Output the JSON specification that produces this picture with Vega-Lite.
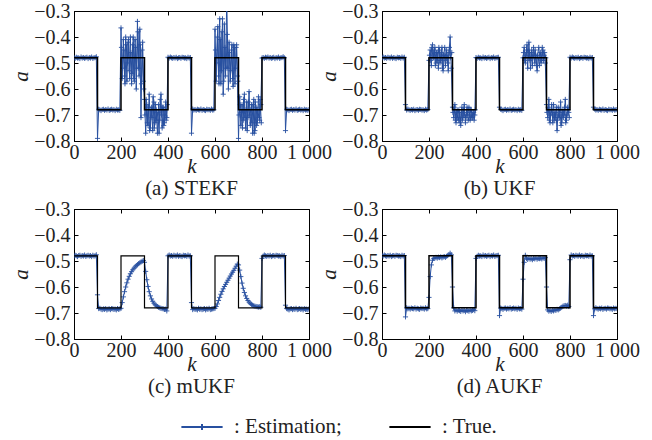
{
"$schema":"https://vega.github.io/schema/vega-lite/v6.json",
"padding":{"left":10,"top":0,"right":2,"bottom":0},
"spacing":-2,
"config":{
 "font":"Liberation Serif",
 "view":{"stroke":"#000","strokeWidth":1},
 "axis":{"labelFont":"Liberation Serif","labelFontSize":20,"labelColor":"#222","titleFont":"Liberation Serif","titleFontSize":21,"titleFontStyle":"italic","titleFontWeight":"normal","titleColor":"#222","domainColor":"#000","tickColor":"#000","tickSize":-4,"labelPadding":8,"grid":false},
 "axisBottom":{"labelPadding":5,"titlePadding":-7},
 "axisLeft":{"titlePadding":2},
 "title":{"font":"Liberation Serif","fontSize":21,"fontWeight":"normal","color":"#222"}
},
"datasets":{
"t":[{"k":0,"t":-0.48},{"k":100,"t":-0.68},{"k":200,"t":-0.48},{"k":300,"t":-0.68},{"k":400,"t":-0.48},{"k":500,"t":-0.68},{"k":600,"t":-0.48},{"k":700,"t":-0.68},{"k":800,"t":-0.48},{"k":900,"t":-0.68},{"k":1000,"t":-0.68}],
"x":[
{"k":202,"g":2,"s":-0.44,"u":-0.47},{"k":207,"g":2,"s":-0.52,"u":-0.49},{"k":212,"g":2,"s":-0.45,"u":-0.44},{"k":217,"g":2,"s":-0.58,"u":-0.48},
{"k":222,"g":2,"s":-0.43,"u":-0.45},{"k":227,"g":2,"s":-0.50,"u":-0.51},{"k":232,"g":2,"s":-0.41,"u":-0.46},{"k":237,"g":2,"s":-0.56,"u":-0.49},
{"k":242,"g":2,"s":-0.46,"u":-0.44},{"k":247,"g":2,"s":-0.54,"u":-0.50},{"k":252,"g":2,"s":-0.40,"u":-0.46},{"k":257,"g":2,"s":-0.57,"u":-0.52},
{"k":262,"g":2,"s":-0.44,"u":-0.47},{"k":267,"g":2,"s":-0.52,"u":-0.44},{"k":272,"g":2,"s":-0.38,"u":-0.49},{"k":277,"g":2,"s":-0.55,"u":-0.47},
{"k":282,"g":2,"s":-0.43,"u":-0.53},{"k":287,"g":2,"s":-0.58,"u":-0.44},{"k":292,"g":2,"s":-0.42,"u":-0.48},{"k":297,"g":2,"s":-0.60,"u":-0.46},
{"k":302,"g":3,"s":-0.70,"u":-0.69},{"k":307,"g":3,"s":-0.64,"u":-0.67},{"k":312,"g":3,"s":-0.73,"u":-0.72},{"k":317,"g":3,"s":-0.67,"u":-0.69},
{"k":322,"g":3,"s":-0.76,"u":-0.71},{"k":327,"g":3,"s":-0.68,"u":-0.68},{"k":332,"g":3,"s":-0.71,"u":-0.73},{"k":337,"g":3,"s":-0.63,"u":-0.69},
{"k":342,"g":3,"s":-0.75,"u":-0.72},{"k":347,"g":3,"s":-0.66,"u":-0.68},{"k":352,"g":3,"s":-0.72,"u":-0.70},{"k":357,"g":3,"s":-0.69,"u":-0.71},
{"k":362,"g":3,"s":-0.77,"u":-0.67},{"k":367,"g":3,"s":-0.64,"u":-0.72},{"k":372,"g":3,"s":-0.70,"u":-0.70},{"k":377,"g":3,"s":-0.67,"u":-0.68},
{"k":382,"g":3,"s":-0.74,"u":-0.71},{"k":387,"g":3,"s":-0.68,"u":-0.69},{"k":392,"g":3,"s":-0.72,"u":-0.72},{"k":397,"g":3,"s":-0.66,"u":-0.68},
{"k":602,"g":6,"s":-0.45,"u":-0.46},{"k":607,"g":6,"s":-0.50,"u":-0.49},{"k":612,"g":6,"s":-0.36,"u":-0.47},{"k":617,"g":6,"s":-0.58,"u":-0.43},
{"k":622,"g":6,"s":-0.41,"u":-0.48},{"k":627,"g":6,"s":-0.53,"u":-0.46},{"k":632,"g":6,"s":-0.33,"u":-0.52},{"k":637,"g":6,"s":-0.57,"u":-0.45},
{"k":642,"g":6,"s":-0.44,"u":-0.48},{"k":647,"g":6,"s":-0.52,"u":-0.47},{"k":652,"g":6,"s":-0.39,"u":-0.45},{"k":657,"g":6,"s":-0.60,"u":-0.51},
{"k":662,"g":6,"s":-0.46,"u":-0.47},{"k":667,"g":6,"s":-0.53,"u":-0.44},{"k":672,"g":6,"s":-0.43,"u":-0.48},{"k":677,"g":6,"s":-0.59,"u":-0.50},
{"k":682,"g":6,"s":-0.44,"u":-0.44},{"k":687,"g":6,"s":-0.52,"u":-0.49},{"k":692,"g":6,"s":-0.43,"u":-0.46},{"k":697,"g":6,"s":-0.57,"u":-0.48},
{"k":702,"g":7,"s":-0.70,"u":-0.69},{"k":707,"g":7,"s":-0.66,"u":-0.67},{"k":712,"g":7,"s":-0.69,"u":-0.72},{"k":717,"g":7,"s":-0.75,"u":-0.70},
{"k":722,"g":7,"s":-0.64,"u":-0.66},{"k":727,"g":7,"s":-0.71,"u":-0.73},{"k":732,"g":7,"s":-0.68,"u":-0.69},{"k":737,"g":7,"s":-0.76,"u":-0.71},
{"k":742,"g":7,"s":-0.65,"u":-0.67},{"k":747,"g":7,"s":-0.70,"u":-0.72},{"k":752,"g":7,"s":-0.68,"u":-0.70},{"k":757,"g":7,"s":-0.73,"u":-0.68},
{"k":762,"g":7,"s":-0.66,"u":-0.74},{"k":767,"g":7,"s":-0.77,"u":-0.69},{"k":772,"g":7,"s":-0.65,"u":-0.71},{"k":777,"g":7,"s":-0.74,"u":-0.67},
{"k":782,"g":7,"s":-0.68,"u":-0.73},{"k":787,"g":7,"s":-0.71,"u":-0.70},{"k":792,"g":7,"s":-0.64,"u":-0.68},{"k":797,"g":7,"s":-0.73,"u":-0.71}
],
"e":[
{"k":0,"s":-0.479,"u":-0.480,"m":-0.481,"f":-0.478},
{"k":5,"s":-0.482,"u":-0.477,"m":-0.478,"f":-0.481},
{"k":10,"s":-0.478,"u":-0.481,"m":-0.480,"f":-0.477},
{"k":15,"s":-0.481,"u":-0.479,"m":-0.483,"f":-0.480},
{"k":20,"s":-0.480,"u":-0.482,"m":-0.479,"f":-0.482},
{"k":25,"s":-0.483,"u":-0.478,"m":-0.478,"f":-0.479},
{"k":30,"s":-0.477,"u":-0.480,"m":-0.482,"f":-0.481},
{"k":35,"s":-0.481,"u":-0.481,"m":-0.479,"f":-0.478},
{"k":40,"s":-0.479,"u":-0.477,"m":-0.481,"f":-0.483},
{"k":45,"s":-0.482,"u":-0.482,"m":-0.477,"f":-0.480},
{"k":50,"s":-0.480,"u":-0.479,"m":-0.482,"f":-0.479},
{"k":55,"s":-0.478,"u":-0.481,"m":-0.480,"f":-0.482},
{"k":60,"s":-0.483,"u":-0.483,"m":-0.478,"f":-0.478},
{"k":65,"s":-0.479,"u":-0.478,"m":-0.481,"f":-0.479},
{"k":70,"s":-0.481,"u":-0.480,"m":-0.479,"f":-0.481},
{"k":75,"s":-0.477,"u":-0.479,"m":-0.483,"f":-0.480},
{"k":80,"s":-0.482,"u":-0.482,"m":-0.478,"f":-0.483},
{"k":85,"s":-0.480,"u":-0.477,"m":-0.481,"f":-0.478},
{"k":90,"s":-0.479,"u":-0.481,"m":-0.480,"f":-0.481},
{"k":95,"s":-0.476,"u":-0.478,"m":-0.476,"f":-0.479},
{"k":100,"s":-0.79,"u":-0.66,"m":-0.63,"f":-0.715},
{"k":105,"s":-0.678,"u":-0.681,"m":-0.683,"f":-0.680},
{"k":110,"s":-0.680,"u":-0.677,"m":-0.682,"f":-0.684},
{"k":115,"s":-0.683,"u":-0.680,"m":-0.685,"f":-0.682},
{"k":120,"s":-0.679,"u":-0.682,"m":-0.687,"f":-0.685},
{"k":125,"s":-0.678,"u":-0.679,"m":-0.684,"f":-0.681},
{"k":130,"s":-0.682,"u":-0.681,"m":-0.686,"f":-0.683},
{"k":135,"s":-0.679,"u":-0.678,"m":-0.683,"f":-0.684},
{"k":140,"s":-0.681,"u":-0.683,"m":-0.688,"f":-0.680},
{"k":145,"s":-0.677,"u":-0.680,"m":-0.685,"f":-0.685},
{"k":150,"s":-0.682,"u":-0.679,"m":-0.684,"f":-0.682},
{"k":155,"s":-0.680,"u":-0.682,"m":-0.687,"f":-0.684},
{"k":160,"s":-0.678,"u":-0.678,"m":-0.683,"f":-0.686},
{"k":165,"s":-0.681,"u":-0.679,"m":-0.684,"f":-0.681},
{"k":170,"s":-0.679,"u":-0.681,"m":-0.686,"f":-0.683},
{"k":175,"s":-0.683,"u":-0.680,"m":-0.685,"f":-0.682},
{"k":180,"s":-0.678,"u":-0.683,"m":-0.688,"f":-0.685},
{"k":185,"s":-0.681,"u":-0.678,"m":-0.683,"f":-0.680},
{"k":190,"s":-0.680,"u":-0.681,"m":-0.686,"f":-0.684},
{"k":195,"s":-0.682,"u":-0.679,"m":-0.684,"f":-0.683},
{"k":200,"s":-0.365,"u":-0.49,"m":-0.682,"f":-0.64},
{"k":205,"s":-0.56,"u":-0.45,"m":-0.66,"f":-0.56},
{"k":210,"s":-0.41,"u":-0.51,"m":-0.638,"f":-0.515},
{"k":215,"s":-0.55,"u":-0.43,"m":-0.618,"f":-0.497},
{"k":220,"s":-0.40,"u":-0.48,"m":-0.60,"f":-0.49},
{"k":225,"s":-0.57,"u":-0.44,"m":-0.584,"f":-0.488},
{"k":230,"s":-0.42,"u":-0.50,"m":-0.57,"f":-0.486},
{"k":235,"s":-0.53,"u":-0.46,"m":-0.559,"f":-0.489},
{"k":240,"s":-0.40,"u":-0.52,"m":-0.549,"f":-0.485},
{"k":245,"s":-0.58,"u":-0.45,"m":-0.541,"f":-0.487},
{"k":250,"s":-0.43,"u":-0.49,"m":-0.534,"f":-0.484},
{"k":255,"s":-0.56,"u":-0.44,"m":-0.528,"f":-0.488},
{"k":260,"s":-0.41,"u":-0.53,"m":-0.523,"f":-0.485},
{"k":265,"s":-0.60,"u":-0.47,"m":-0.518,"f":-0.483},
{"k":270,"s":-0.34,"u":-0.51,"m":-0.514,"f":-0.486},
{"k":275,"s":-0.52,"u":-0.45,"m":-0.51,"f":-0.482},
{"k":280,"s":-0.37,"u":-0.50,"m":-0.507,"f":-0.479},
{"k":285,"s":-0.71,"u":-0.46,"m":-0.504,"f":-0.475},
{"k":290,"s":-0.45,"u":-0.40,"m":-0.501,"f":-0.47},
{"k":295,"s":-0.57,"u":-0.52,"m":-0.498,"f":-0.476},
{"k":300,"s":-0.64,"u":-0.67,"m":-0.505,"f":-0.60},
{"k":305,"s":-0.77,"u":-0.71,"m":-0.54,"f":-0.68},
{"k":310,"s":-0.66,"u":-0.66,"m":-0.572,"f":-0.692},
{"k":315,"s":-0.74,"u":-0.73,"m":-0.598,"f":-0.688},
{"k":320,"s":-0.62,"u":-0.68,"m":-0.618,"f":-0.693},
{"k":325,"s":-0.75,"u":-0.72,"m":-0.634,"f":-0.689},
{"k":330,"s":-0.67,"u":-0.69,"m":-0.646,"f":-0.691},
{"k":335,"s":-0.76,"u":-0.74,"m":-0.655,"f":-0.694},
{"k":340,"s":-0.65,"u":-0.67,"m":-0.662,"f":-0.688},
{"k":345,"s":-0.73,"u":-0.71,"m":-0.668,"f":-0.692},
{"k":350,"s":-0.68,"u":-0.66,"m":-0.672,"f":-0.69},
{"k":355,"s":-0.77,"u":-0.73,"m":-0.675,"f":-0.695},
{"k":360,"s":-0.66,"u":-0.69,"m":-0.678,"f":-0.689},
{"k":365,"s":-0.72,"u":-0.70,"m":-0.68,"f":-0.691},
{"k":370,"s":-0.62,"u":-0.67,"m":-0.682,"f":-0.693},
{"k":375,"s":-0.75,"u":-0.72,"m":-0.683,"f":-0.688},
{"k":380,"s":-0.67,"u":-0.68,"m":-0.684,"f":-0.692},
{"k":385,"s":-0.73,"u":-0.71,"m":-0.686,"f":-0.69},
{"k":390,"s":-0.65,"u":-0.69,"m":-0.685,"f":-0.687},
{"k":395,"s":-0.71,"u":-0.70,"m":-0.692,"f":-0.691},
{"k":400,"s":-0.478,"u":-0.479,"m":-0.480,"f":-0.490},
{"k":405,"s":-0.481,"u":-0.482,"m":-0.477,"f":-0.482},
{"k":410,"s":-0.477,"u":-0.478,"m":-0.481,"f":-0.478},
{"k":415,"s":-0.480,"u":-0.481,"m":-0.479,"f":-0.481},
{"k":420,"s":-0.482,"u":-0.480,"m":-0.482,"f":-0.480},
{"k":425,"s":-0.479,"u":-0.483,"m":-0.478,"f":-0.483},
{"k":430,"s":-0.481,"u":-0.477,"m":-0.480,"f":-0.477},
{"k":435,"s":-0.478,"u":-0.481,"m":-0.481,"f":-0.481},
{"k":440,"s":-0.483,"u":-0.479,"m":-0.477,"f":-0.479},
{"k":445,"s":-0.480,"u":-0.482,"m":-0.482,"f":-0.482},
{"k":450,"s":-0.479,"u":-0.480,"m":-0.479,"f":-0.480},
{"k":455,"s":-0.482,"u":-0.478,"m":-0.481,"f":-0.478},
{"k":460,"s":-0.478,"u":-0.483,"m":-0.483,"f":-0.483},
{"k":465,"s":-0.479,"u":-0.479,"m":-0.478,"f":-0.479},
{"k":470,"s":-0.481,"u":-0.481,"m":-0.480,"f":-0.481},
{"k":475,"s":-0.480,"u":-0.477,"m":-0.479,"f":-0.477},
{"k":480,"s":-0.483,"u":-0.482,"m":-0.482,"f":-0.482},
{"k":485,"s":-0.478,"u":-0.480,"m":-0.477,"f":-0.480},
{"k":490,"s":-0.481,"u":-0.479,"m":-0.481,"f":-0.479},
{"k":495,"s":-0.479,"u":-0.478,"m":-0.480,"f":-0.478},
{"k":500,"s":-0.77,"u":-0.67,"m":-0.66,"f":-0.71},
{"k":505,"s":-0.677,"u":-0.678,"m":-0.687,"f":-0.681},
{"k":510,"s":-0.681,"u":-0.680,"m":-0.683,"f":-0.683},
{"k":515,"s":-0.679,"u":-0.683,"m":-0.686,"f":-0.686},
{"k":520,"s":-0.682,"u":-0.679,"m":-0.685,"f":-0.682},
{"k":525,"s":-0.678,"u":-0.678,"m":-0.688,"f":-0.681},
{"k":530,"s":-0.680,"u":-0.682,"m":-0.682,"f":-0.685},
{"k":535,"s":-0.681,"u":-0.679,"m":-0.686,"f":-0.682},
{"k":540,"s":-0.677,"u":-0.681,"m":-0.684,"f":-0.684},
{"k":545,"s":-0.682,"u":-0.677,"m":-0.687,"f":-0.680},
{"k":550,"s":-0.679,"u":-0.682,"m":-0.685,"f":-0.685},
{"k":555,"s":-0.681,"u":-0.680,"m":-0.683,"f":-0.683},
{"k":560,"s":-0.683,"u":-0.678,"m":-0.688,"f":-0.681},
{"k":565,"s":-0.678,"u":-0.681,"m":-0.684,"f":-0.684},
{"k":570,"s":-0.680,"u":-0.679,"m":-0.686,"f":-0.682},
{"k":575,"s":-0.679,"u":-0.683,"m":-0.682,"f":-0.686},
{"k":580,"s":-0.682,"u":-0.678,"m":-0.687,"f":-0.681},
{"k":585,"s":-0.677,"u":-0.681,"m":-0.685,"f":-0.684},
{"k":590,"s":-0.681,"u":-0.680,"m":-0.684,"f":-0.683},
{"k":595,"s":-0.680,"u":-0.682,"m":-0.683,"f":-0.685},
{"k":600,"s":-0.37,"u":-0.48,"m":-0.682,"f":-0.57},
{"k":605,"s":-0.57,"u":-0.44,"m":-0.675,"f":-0.505},
{"k":610,"s":-0.40,"u":-0.50,"m":-0.665,"f":-0.478},
{"k":615,"s":-0.55,"u":-0.45,"m":-0.652,"f":-0.49},
{"k":620,"s":-0.33,"u":-0.52,"m":-0.64,"f":-0.494},
{"k":625,"s":-0.58,"u":-0.42,"m":-0.628,"f":-0.489},
{"k":630,"s":-0.38,"u":-0.49,"m":-0.617,"f":-0.493},
{"k":635,"s":-0.62,"u":-0.46,"m":-0.607,"f":-0.491},
{"k":640,"s":-0.35,"u":-0.51,"m":-0.598,"f":-0.495},
{"k":645,"s":-0.55,"u":-0.44,"m":-0.59,"f":-0.49},
{"k":650,"s":-0.25,"u":-0.50,"m":-0.582,"f":-0.492},
{"k":655,"s":-0.52,"u":-0.47,"m":-0.574,"f":-0.488},
{"k":660,"s":-0.42,"u":-0.53,"m":-0.566,"f":-0.493},
{"k":665,"s":-0.57,"u":-0.48,"m":-0.558,"f":-0.49},
{"k":670,"s":-0.45,"u":-0.51,"m":-0.55,"f":-0.491},
{"k":675,"s":-0.56,"u":-0.46,"m":-0.543,"f":-0.489},
{"k":680,"s":-0.43,"u":-0.49,"m":-0.536,"f":-0.492},
{"k":685,"s":-0.58,"u":-0.45,"m":-0.528,"f":-0.488},
{"k":690,"s":-0.44,"u":-0.47,"m":-0.52,"f":-0.49},
{"k":695,"s":-0.55,"u":-0.50,"m":-0.512,"f":-0.487},
{"k":700,"s":-0.79,"u":-0.66,"m":-0.515,"f":-0.60},
{"k":705,"s":-0.63,"u":-0.71,"m":-0.535,"f":-0.688},
{"k":710,"s":-0.74,"u":-0.64,"m":-0.56,"f":-0.693},
{"k":715,"s":-0.66,"u":-0.73,"m":-0.585,"f":-0.69},
{"k":720,"s":-0.72,"u":-0.68,"m":-0.605,"f":-0.694},
{"k":725,"s":-0.62,"u":-0.70,"m":-0.621,"f":-0.689},
{"k":730,"s":-0.75,"u":-0.66,"m":-0.634,"f":-0.692},
{"k":735,"s":-0.65,"u":-0.72,"m":-0.644,"f":-0.688},
{"k":740,"s":-0.71,"u":-0.69,"m":-0.652,"f":-0.69},
{"k":745,"s":-0.61,"u":-0.76,"m":-0.658,"f":-0.686},
{"k":750,"s":-0.74,"u":-0.67,"m":-0.663,"f":-0.688},
{"k":755,"s":-0.66,"u":-0.71,"m":-0.667,"f":-0.684},
{"k":760,"s":-0.77,"u":-0.65,"m":-0.67,"f":-0.681},
{"k":765,"s":-0.64,"u":-0.73,"m":-0.672,"f":-0.678},
{"k":770,"s":-0.76,"u":-0.68,"m":-0.674,"f":-0.674},
{"k":775,"s":-0.67,"u":-0.70,"m":-0.675,"f":-0.672},
{"k":780,"s":-0.73,"u":-0.64,"m":-0.676,"f":-0.671},
{"k":785,"s":-0.63,"u":-0.72,"m":-0.677,"f":-0.673},
{"k":790,"s":-0.72,"u":-0.67,"m":-0.676,"f":-0.67},
{"k":795,"s":-0.66,"u":-0.69,"m":-0.678,"f":-0.675},
{"k":800,"s":-0.481,"u":-0.478,"m":-0.490,"f":-0.495},
{"k":805,"s":-0.479,"u":-0.481,"m":-0.481,"f":-0.477},
{"k":810,"s":-0.482,"u":-0.477,"m":-0.477,"f":-0.481},
{"k":815,"s":-0.478,"u":-0.480,"m":-0.480,"f":-0.479},
{"k":820,"s":-0.480,"u":-0.482,"m":-0.482,"f":-0.482},
{"k":825,"s":-0.477,"u":-0.479,"m":-0.479,"f":-0.478},
{"k":830,"s":-0.481,"u":-0.481,"m":-0.481,"f":-0.480},
{"k":835,"s":-0.479,"u":-0.478,"m":-0.478,"f":-0.481},
{"k":840,"s":-0.482,"u":-0.483,"m":-0.483,"f":-0.477},
{"k":845,"s":-0.480,"u":-0.480,"m":-0.480,"f":-0.482},
{"k":850,"s":-0.478,"u":-0.479,"m":-0.479,"f":-0.479},
{"k":855,"s":-0.483,"u":-0.482,"m":-0.482,"f":-0.481},
{"k":860,"s":-0.479,"u":-0.478,"m":-0.478,"f":-0.483},
{"k":865,"s":-0.481,"u":-0.479,"m":-0.479,"f":-0.478},
{"k":870,"s":-0.477,"u":-0.481,"m":-0.481,"f":-0.480},
{"k":875,"s":-0.482,"u":-0.480,"m":-0.480,"f":-0.479},
{"k":880,"s":-0.480,"u":-0.483,"m":-0.483,"f":-0.482},
{"k":885,"s":-0.479,"u":-0.478,"m":-0.478,"f":-0.477},
{"k":890,"s":-0.476,"u":-0.481,"m":-0.481,"f":-0.481},
{"k":895,"s":-0.480,"u":-0.479,"m":-0.479,"f":-0.480},
{"k":900,"s":-0.76,"u":-0.67,"m":-0.67,"f":-0.71},
{"k":905,"s":-0.678,"u":-0.677,"m":-0.683,"f":-0.684},
{"k":910,"s":-0.680,"u":-0.681,"m":-0.685,"f":-0.680},
{"k":915,"s":-0.683,"u":-0.679,"m":-0.688,"f":-0.683},
{"k":920,"s":-0.679,"u":-0.682,"m":-0.684,"f":-0.685},
{"k":925,"s":-0.678,"u":-0.678,"m":-0.683,"f":-0.682},
{"k":930,"s":-0.682,"u":-0.680,"m":-0.687,"f":-0.684},
{"k":935,"s":-0.679,"u":-0.681,"m":-0.684,"f":-0.681},
{"k":940,"s":-0.681,"u":-0.677,"m":-0.686,"f":-0.686},
{"k":945,"s":-0.677,"u":-0.682,"m":-0.682,"f":-0.683},
{"k":950,"s":-0.682,"u":-0.679,"m":-0.687,"f":-0.682},
{"k":955,"s":-0.680,"u":-0.681,"m":-0.685,"f":-0.685},
{"k":960,"s":-0.678,"u":-0.683,"m":-0.683,"f":-0.681},
{"k":965,"s":-0.681,"u":-0.678,"m":-0.686,"f":-0.682},
{"k":970,"s":-0.679,"u":-0.680,"m":-0.684,"f":-0.684},
{"k":975,"s":-0.683,"u":-0.679,"m":-0.688,"f":-0.683},
{"k":980,"s":-0.678,"u":-0.682,"m":-0.683,"f":-0.686},
{"k":985,"s":-0.681,"u":-0.677,"m":-0.686,"f":-0.681},
{"k":990,"s":-0.680,"u":-0.681,"m":-0.685,"f":-0.684},
{"k":995,"s":-0.682,"u":-0.680,"m":-0.687,"f":-0.682},
{"k":1000,"s":-0.679,"u":-0.679,"m":-0.684,"f":-0.683}
]},
"vconcat":[
{"hconcat":[
{"width":235,"height":130,"title":{"text":"(a) STEKF","orient":"bottom","offset":2},
 "resolve":{"axis":{"x":"independent","y":"independent"}},
 "layer":[
  {"data":{"name":"e"},"mark":{"type":"line","strokeWidth":1,"clip":true},
   "encoding":{
    "x":{"field":"k","type":"quantitative","scale":{"domain":[0,1000],"nice":false},"axis":{"orient":"bottom","title":"k","values":[0,200,400,600,800,1000],"labelExpr":"datum.value===1000?'1 000':datum.label","labelOverlap":false,"labelFlush":false,"labelBound":false}},
    "y":{"field":"s","type":"quantitative","scale":{"domain":[-0.8,-0.3],"nice":false,"zero":false},"axis":{"orient":"left","title":"a","values":[-0.8,-0.7,-0.6,-0.5,-0.4,-0.3],"format":".1f","labelOverlap":false,"labelFlush":false,"labelBound":false}},
    "color":{"datum":": Estimation;","scale":{"domain":[": Estimation;",": True."],"range":["#2850a0","#000000"]},
     "legend":{"title":null,"orient":"none","legendX":106,"legendY":394,"direction":"horizontal","symbolType":"stroke","symbolSize":1700,"symbolStrokeWidth":2,"labelFont":"Liberation Serif","labelFontSize":21,"labelColor":"#222","labelOffset":10,"columnPadding":43,"labelLimit":0,
      "encode":{"symbols":{"update":{"shape":{"signal":"datum.value === ': Estimation;' ? 'M-1,0H1M0,-0.15V0.15' : 'M-1,0H1'"}}}}}}
   }},
  {"data":{"name":"x"},"mark":{"type":"line","strokeWidth":1,"clip":true},
   "encoding":{"x":{"field":"k","type":"quantitative","scale":{"domain":[0,1000],"nice":false},"axis":null},"y":{"field":"s","type":"quantitative","scale":{"domain":[-0.8,-0.3],"nice":false,"zero":false},"axis":null},"detail":{"field":"g","type":"nominal"},"color":{"datum":": Estimation;"}}},
  {"data":{"name":"x"},"mark":{"type":"point","shape":"M-1,0H1M0,-1V1","size":26,"filled":false,"strokeWidth":0.9,"clip":true,"opacity":1},
   "encoding":{"x":{"field":"k","type":"quantitative","scale":{"domain":[0,1000],"nice":false},"axis":null},"y":{"field":"s","type":"quantitative","scale":{"domain":[-0.8,-0.3],"nice":false,"zero":false},"axis":null},"color":{"datum":": Estimation;"}}},
  {"data":{"name":"e"},"mark":{"type":"point","shape":"M-1,0H1M0,-1V1","size":26,"filled":false,"strokeWidth":0.9,"clip":true,"opacity":1},
   "encoding":{"x":{"field":"k","type":"quantitative","scale":{"domain":[0,1000],"nice":false},"axis":null},"y":{"field":"s","type":"quantitative","scale":{"domain":[-0.8,-0.3],"nice":false,"zero":false},"axis":null},"color":{"datum":": Estimation;"}}},
  {"data":{"name":"t"},"mark":{"type":"line","interpolate":"step-after","strokeWidth":1.5,"clip":true},
   "encoding":{"x":{"field":"k","type":"quantitative","scale":{"domain":[0,1000],"nice":false},"axis":{"orient":"top","labels":false,"title":null,"domain":false,"values":[0,200,400,600,800,1000]}},"y":{"field":"t","type":"quantitative","scale":{"domain":[-0.8,-0.3],"nice":false,"zero":false},"axis":{"orient":"right","labels":false,"title":null,"domain":false,"values":[-0.8,-0.7,-0.6,-0.5,-0.4,-0.3]}},"color":{"datum":": True."}}}
 ]},
{"width":235,"height":130,"title":{"text":"(b) UKF","orient":"bottom","offset":2},
 "resolve":{"axis":{"x":"independent","y":"independent"}},
 "layer":[
  {"data":{"name":"e"},"mark":{"type":"line","strokeWidth":1,"clip":true},
   "encoding":{
    "x":{"field":"k","type":"quantitative","scale":{"domain":[0,1000],"nice":false},"axis":{"orient":"bottom","title":"k","values":[0,200,400,600,800,1000],"labelExpr":"datum.value===1000?'1 000':datum.label","labelOverlap":false,"labelFlush":false,"labelBound":false}},
    "y":{"field":"u","type":"quantitative","scale":{"domain":[-0.8,-0.3],"nice":false,"zero":false},"axis":{"orient":"left","title":"a","values":[-0.8,-0.7,-0.6,-0.5,-0.4,-0.3],"format":".1f","labelOverlap":false,"labelFlush":false,"labelBound":false}},
    "color":{"datum":": Estimation;"}
   }},
  {"data":{"name":"x"},"mark":{"type":"line","strokeWidth":1,"clip":true},
   "encoding":{"x":{"field":"k","type":"quantitative","scale":{"domain":[0,1000],"nice":false},"axis":null},"y":{"field":"u","type":"quantitative","scale":{"domain":[-0.8,-0.3],"nice":false,"zero":false},"axis":null},"detail":{"field":"g","type":"nominal"},"color":{"datum":": Estimation;"}}},
  {"data":{"name":"x"},"mark":{"type":"point","shape":"M-1,0H1M0,-1V1","size":26,"filled":false,"strokeWidth":0.9,"clip":true,"opacity":1},
   "encoding":{"x":{"field":"k","type":"quantitative","scale":{"domain":[0,1000],"nice":false},"axis":null},"y":{"field":"u","type":"quantitative","scale":{"domain":[-0.8,-0.3],"nice":false,"zero":false},"axis":null},"color":{"datum":": Estimation;"}}},
  {"data":{"name":"e"},"mark":{"type":"point","shape":"M-1,0H1M0,-1V1","size":26,"filled":false,"strokeWidth":0.9,"clip":true,"opacity":1},
   "encoding":{"x":{"field":"k","type":"quantitative","scale":{"domain":[0,1000],"nice":false},"axis":null},"y":{"field":"u","type":"quantitative","scale":{"domain":[-0.8,-0.3],"nice":false,"zero":false},"axis":null},"color":{"datum":": Estimation;"}}},
  {"data":{"name":"t"},"mark":{"type":"line","interpolate":"step-after","strokeWidth":1.5,"clip":true},
   "encoding":{"x":{"field":"k","type":"quantitative","scale":{"domain":[0,1000],"nice":false},"axis":{"orient":"top","labels":false,"title":null,"domain":false,"values":[0,200,400,600,800,1000]}},"y":{"field":"t","type":"quantitative","scale":{"domain":[-0.8,-0.3],"nice":false,"zero":false},"axis":{"orient":"right","labels":false,"title":null,"domain":false,"values":[-0.8,-0.7,-0.6,-0.5,-0.4,-0.3]}},"color":{"datum":": True."}}}
 ]}
],"spacing":73,"bounds":"flush"},
{"hconcat":[
{"width":235,"height":130,"title":{"text":"(c) mUKF","orient":"bottom","offset":2},
 "resolve":{"axis":{"x":"independent","y":"independent"}},
 "layer":[
  {"data":{"name":"e"},"mark":{"type":"line","strokeWidth":1,"clip":true},
   "encoding":{
    "x":{"field":"k","type":"quantitative","scale":{"domain":[0,1000],"nice":false},"axis":{"orient":"bottom","title":"k","values":[0,200,400,600,800,1000],"labelExpr":"datum.value===1000?'1 000':datum.label","labelOverlap":false,"labelFlush":false,"labelBound":false}},
    "y":{"field":"m","type":"quantitative","scale":{"domain":[-0.8,-0.3],"nice":false,"zero":false},"axis":{"orient":"left","title":"a","values":[-0.8,-0.7,-0.6,-0.5,-0.4,-0.3],"format":".1f","labelOverlap":false,"labelFlush":false,"labelBound":false}},
    "color":{"datum":": Estimation;"}
   }},
  {"data":{"name":"e"},"mark":{"type":"point","shape":"M-1,0H1M0,-1V1","size":26,"filled":false,"strokeWidth":0.9,"clip":true,"opacity":1},
   "encoding":{"x":{"field":"k","type":"quantitative","scale":{"domain":[0,1000],"nice":false},"axis":null},"y":{"field":"m","type":"quantitative","scale":{"domain":[-0.8,-0.3],"nice":false,"zero":false},"axis":null},"color":{"datum":": Estimation;"}}},
  {"data":{"name":"t"},"mark":{"type":"line","interpolate":"step-after","strokeWidth":1.2,"clip":true},
   "encoding":{"x":{"field":"k","type":"quantitative","scale":{"domain":[0,1000],"nice":false},"axis":{"orient":"top","labels":false,"title":null,"domain":false,"values":[0,200,400,600,800,1000]}},"y":{"field":"t","type":"quantitative","scale":{"domain":[-0.8,-0.3],"nice":false,"zero":false},"axis":{"orient":"right","labels":false,"title":null,"domain":false,"values":[-0.8,-0.7,-0.6,-0.5,-0.4,-0.3]}},"color":{"datum":": True."}}}
 ]},
{"width":235,"height":130,"title":{"text":"(d) AUKF","orient":"bottom","offset":2},
 "resolve":{"axis":{"x":"independent","y":"independent"}},
 "layer":[
  {"data":{"name":"e"},"mark":{"type":"line","strokeWidth":1,"clip":true},
   "encoding":{
    "x":{"field":"k","type":"quantitative","scale":{"domain":[0,1000],"nice":false},"axis":{"orient":"bottom","title":"k","values":[0,200,400,600,800,1000],"labelExpr":"datum.value===1000?'1 000':datum.label","labelOverlap":false,"labelFlush":false,"labelBound":false}},
    "y":{"field":"f","type":"quantitative","scale":{"domain":[-0.8,-0.3],"nice":false,"zero":false},"axis":{"orient":"left","title":"a","values":[-0.8,-0.7,-0.6,-0.5,-0.4,-0.3],"format":".1f","labelOverlap":false,"labelFlush":false,"labelBound":false}},
    "color":{"datum":": Estimation;"}
   }},
  {"data":{"name":"e"},"mark":{"type":"point","shape":"M-1,0H1M0,-1V1","size":26,"filled":false,"strokeWidth":0.9,"clip":true,"opacity":1},
   "encoding":{"x":{"field":"k","type":"quantitative","scale":{"domain":[0,1000],"nice":false},"axis":null},"y":{"field":"f","type":"quantitative","scale":{"domain":[-0.8,-0.3],"nice":false,"zero":false},"axis":null},"color":{"datum":": Estimation;"}}},
  {"data":{"name":"t"},"mark":{"type":"line","interpolate":"step-after","strokeWidth":1.5,"clip":true},
   "encoding":{"x":{"field":"k","type":"quantitative","scale":{"domain":[0,1000],"nice":false},"axis":{"orient":"top","labels":false,"title":null,"domain":false,"values":[0,200,400,600,800,1000]}},"y":{"field":"t","type":"quantitative","scale":{"domain":[-0.8,-0.3],"nice":false,"zero":false},"axis":{"orient":"right","labels":false,"title":null,"domain":false,"values":[-0.8,-0.7,-0.6,-0.5,-0.4,-0.3]}},"color":{"datum":": True."}}}
 ]}
],"spacing":73,"bounds":"flush"}
]
}
